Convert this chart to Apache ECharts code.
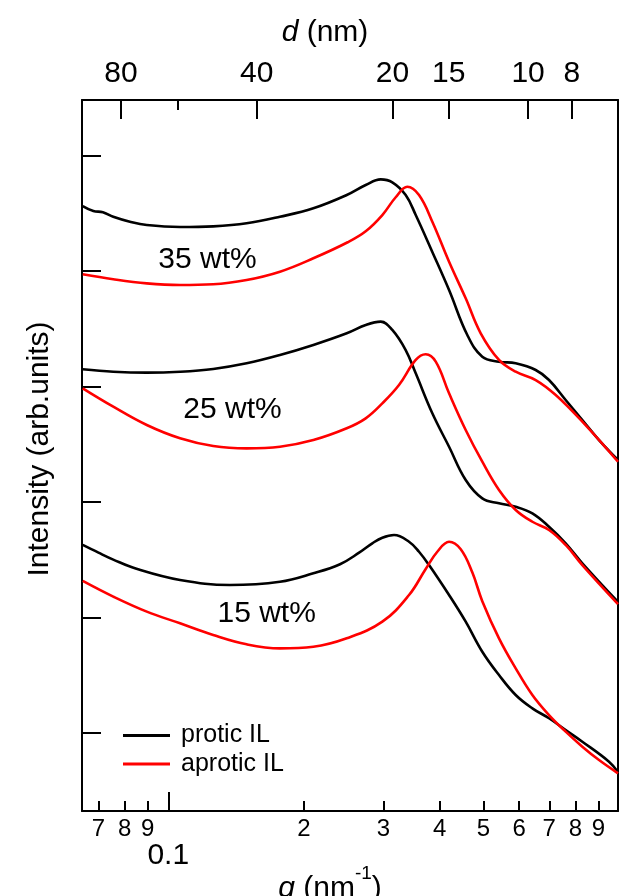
<!DOCTYPE html>
<html>
<head>
<meta charset="utf-8">
<script src="https://cdn.jsdelivr.net/npm/echarts@6/dist/echarts.min.js"></script>
<style>
  html, body { margin: 0; padding: 0; background: #fff; }
  #chart { width: 619px; height: 896px; }
</style>
</head>
<body>
<div id="chart"></div>
<script>
// Scattering vector range (nm^-1) and intensity range (arb. units, offset curves)
const Q_MIN = 0.06436, Q_MAX = 0.9944;
const I_MIN = 0.3215, I_MAX = 6.4827;

// Axis tick values
const qMinorTicks = [0.07, 0.08, 0.09, 0.2, 0.3, 0.4, 0.5, 0.6, 0.7, 0.8, 0.9];
const qMajorTicks = [0.1];
const dMajorTicks = [80, 40, 20, 15, 10, 8];
const dMinorTicks = [60];
const intensityTicks = [1, 2, 3, 4, 5, 6];

// 35 wt%
const q35p = [0.0646, 0.0682, 0.0716, 0.0755, 0.0822, 0.0896, 0.1062, 0.1258, 0.1492, 0.1769, 0.2098, 0.2488, 0.2741, 0.2960, 0.3140, 0.3362, 0.3539, 0.3852, 0.4196, 0.4606, 0.4972, 0.5415, 0.5897, 0.6531, 0.6991, 0.7612, 0.8288, 0.9026, 0.9944];
const i35p = [5.564, 5.521, 5.510, 5.471, 5.428, 5.399, 5.382, 5.388, 5.414, 5.471, 5.544, 5.659, 5.746, 5.795, 5.769, 5.659, 5.486, 5.166, 4.836, 4.446, 4.258, 4.215, 4.201, 4.143, 4.056, 3.883, 3.710, 3.536, 3.363];
const q35a = [0.0646, 0.0755, 0.0896, 0.1062, 0.1258, 0.1492, 0.1769, 0.2098, 0.2500, 0.2741, 0.2984, 0.3195, 0.3390, 0.3599, 0.3852, 0.4196, 0.4568, 0.4932, 0.5415, 0.5897, 0.6531, 0.7235, 0.8288, 0.9944];
const i35a = [4.972, 4.929, 4.894, 4.880, 4.886, 4.923, 4.995, 5.111, 5.250, 5.345, 5.486, 5.640, 5.731, 5.659, 5.428, 5.081, 4.764, 4.461, 4.230, 4.128, 4.056, 3.926, 3.695, 3.348];

// 25 wt%
const q25p = [0.0646, 0.0755, 0.0896, 0.1062, 0.1258, 0.1492, 0.1769, 0.2098, 0.2488, 0.2741, 0.2960, 0.3140, 0.3362, 0.3539, 0.3852, 0.4196, 0.4568, 0.4972, 0.5415, 0.5897, 0.6421, 0.6991, 0.7612, 0.8288, 0.9944];
const i25p = [4.149, 4.128, 4.120, 4.128, 4.152, 4.201, 4.273, 4.360, 4.461, 4.533, 4.562, 4.490, 4.316, 4.114, 3.768, 3.478, 3.190, 3.031, 2.988, 2.958, 2.901, 2.785, 2.641, 2.468, 2.133];
const q25a = [0.0646, 0.0755, 0.0896, 0.1062, 0.1258, 0.1492, 0.1769, 0.2098, 0.2488, 0.2741, 0.2984, 0.3249, 0.3539, 0.3724, 0.3920, 0.4196, 0.4568, 0.4972, 0.5415, 0.5897, 0.6421, 0.6991, 0.7612, 0.8288, 0.9944];
const i25a = [3.984, 3.825, 3.666, 3.551, 3.484, 3.464, 3.478, 3.536, 3.638, 3.724, 3.854, 4.013, 4.230, 4.279, 4.215, 3.941, 3.623, 3.348, 3.103, 2.930, 2.828, 2.757, 2.627, 2.453, 2.115];

// 15 wt%
const q15p = [0.0646, 0.0700, 0.0755, 0.0850, 0.1062, 0.1370, 0.1769, 0.2098, 0.2404, 0.2650, 0.2835, 0.2984, 0.3168, 0.3420, 0.3599, 0.3788, 0.4196, 0.4568, 0.4972, 0.5415, 0.5897, 0.6421, 0.6991, 0.7612, 0.8288, 0.9497, 0.9944];
const i15p = [2.627, 2.560, 2.500, 2.420, 2.323, 2.280, 2.308, 2.381, 2.460, 2.560, 2.641, 2.690, 2.713, 2.655, 2.568, 2.453, 2.193, 1.962, 1.702, 1.500, 1.327, 1.211, 1.125, 1.023, 0.922, 0.749, 0.659];
const q15a = [0.0646, 0.0755, 0.0896, 0.1062, 0.1258, 0.1492, 0.1769, 0.2098, 0.2488, 0.2984, 0.3420, 0.3724, 0.3951, 0.4196, 0.4454, 0.4724, 0.4972, 0.5415, 0.5897, 0.6421, 0.6991, 0.7612, 0.8288, 0.9026, 0.9944];
const i15a = [2.315, 2.179, 2.049, 1.948, 1.847, 1.766, 1.731, 1.745, 1.818, 1.962, 2.193, 2.419, 2.568, 2.655, 2.590, 2.390, 2.140, 1.818, 1.558, 1.327, 1.153, 1.009, 0.879, 0.763, 0.648];

// Concentration annotations, anchored in data coordinates
const concLabels = ['35 wt%', '25 wt%', '15 wt%'];
const concAnchorQ = [0.1222, 0.1388, 0.1653];
const concAnchorI = [5.096, 3.796, 2.027];

const PROTIC = 'protic IL', APROTIC = 'aprotic IL';
const FONT = "'Liberation Sans', Arial, Helvetica, sans-serif";
const zip = (xs, ys) => xs.map((x, k) => [x, ys[k]]);
const TWO_PI = 2 * Math.PI;

const chart = echarts.init(document.getElementById('chart'), null, { renderer: 'canvas' });

function curve(name, color, qs, is) {
  return {
    name, type: 'line', data: zip(qs, is), showSymbol: false, symbol: 'none',
    smooth: 0.4, lineStyle: { color, width: 2.6 }, itemStyle: { color },
    animation: false, z: color === '#000000' ? 2 : 3
  };
}

const baseLog = { type: 'log', logBase: 10, min: Q_MIN, max: Q_MAX, gridIndex: 0, splitLine: { show: false } };
const lineStyle = { color: '#000', width: 2 };

const option = {
  animation: false,
  backgroundColor: '#fff',
  textStyle: { fontFamily: FONT },
  grid: { left: 82, top: 100, width: 536, height: 711, containLabel: false, outerBoundsMode: 'none' },
  legend: {
    orient: 'vertical', left: 123, top: 722.5, padding: 0, icon: 'rect', itemWidth: 47, itemHeight: 3,
    itemGap: 2.6, selectedMode: false,
    textStyle: { fontSize: 25, lineHeight: 26, color: '#000', fontFamily: FONT, padding: [0, 0, 0, 6] },
    data: [PROTIC, APROTIC]
  },
  xAxis: [
    Object.assign({}, baseLog, {
      position: 'bottom',
      axisLine: { show: true, lineStyle },
      axisTick: { show: true, inside: true, length: 10, lineStyle, customValues: qMinorTicks },
      minorTick: { show: false },
      axisLabel: {
        show: true, customValues: qMinorTicks, margin: 6, fontSize: 24, color: '#000', fontFamily: FONT,
        formatter: v => String(v < 0.1 ? Math.round(v * 100) : Math.round(v * 10))
      },
      name: '{i|q}{t| (nm}{s|-1}{t|)}', nameLocation: 'middle', nameGap: 53,
      nameTextStyle: {
        color: '#000', fontFamily: FONT, padding: [0, 40, 0, 0],
        rich: {
          i: { fontSize: 30, fontStyle: 'italic', lineHeight: 40, verticalAlign: 'bottom', fontFamily: FONT, color: '#000' },
          t: { fontSize: 30, lineHeight: 40, verticalAlign: 'bottom', fontFamily: FONT, color: '#000' },
          s: { fontSize: 19, lineHeight: 19, verticalAlign: 'top', fontFamily: FONT, color: '#000' }
        }
      }
    }),
    Object.assign({}, baseLog, {
      position: 'bottom',
      axisLine: { show: false },
      axisTick: { show: true, inside: true, length: 19, lineStyle, customValues: qMajorTicks },
      axisLabel: {
        show: true, customValues: qMajorTicks, margin: 30, fontSize: 30, color: '#000', fontFamily: FONT,
        formatter: v => String(Math.round(v * 10) / 10)
      }
    }),
    Object.assign({}, baseLog, {
      position: 'top',
      axisLine: { show: true, lineStyle },
      axisTick: { show: true, inside: true, length: 19, lineStyle, customValues: dMajorTicks.map(d => TWO_PI / d) },
      axisLabel: {
        show: true, customValues: dMajorTicks.map(d => TWO_PI / d), margin: 11, fontSize: 30, color: '#000', fontFamily: FONT,
        formatter: v => String(Math.round(TWO_PI / v))
      },
      name: '{i|d}{t| (nm)}', nameLocation: 'middle', nameGap: 52,
      nameTextStyle: {
        color: '#000', fontFamily: FONT, padding: [0, 50, 0, 0],
        rich: {
          i: { fontSize: 30, fontStyle: 'italic', lineHeight: 30, fontFamily: FONT, color: '#000' },
          t: { fontSize: 30, lineHeight: 30, fontFamily: FONT, color: '#000' }
        }
      }
    }),
    Object.assign({}, baseLog, {
      position: 'top',
      axisLine: { show: false },
      axisTick: { show: true, inside: true, length: 10, lineStyle, customValues: dMinorTicks.map(d => TWO_PI / d) },
      axisLabel: { show: false }
    })
  ],
  yAxis: [
    {
      type: 'value', position: 'left', min: I_MIN, max: I_MAX, gridIndex: 0,
      splitLine: { show: false },
      axisLine: { show: true, lineStyle },
      axisTick: { show: true, inside: true, length: 19, lineStyle, customValues: intensityTicks },
      axisLabel: { show: false },
      name: 'Intensity (arb.units)', nameLocation: 'middle', nameGap: 27,
      nameTextStyle: { fontSize: 30, color: '#000', fontFamily: FONT, padding: [0, 0, 0, 13] }
    },
    {
      type: 'value', position: 'right', min: I_MIN, max: I_MAX, gridIndex: 0,
      splitLine: { show: false },
      axisLine: { show: true, lineStyle },
      axisTick: { show: false }, axisLabel: { show: false }
    }
  ],
  series: [
    curve(PROTIC, '#000000', q35p, i35p),
    curve(PROTIC, '#000000', q25p, i25p),
    curve(PROTIC, '#000000', q15p, i15p),
    curve(APROTIC, '#ff0000', q35a, i35a),
    curve(APROTIC, '#ff0000', q25a, i25a),
    curve(APROTIC, '#ff0000', q15a, i15a)
  ]
};

chart.setOption(option);

// Place the concentration labels at their data anchors
chart.setOption({
  graphic: concLabels.map((txt, k) => {
    const p = chart.convertToPixel({ xAxisIndex: 0, yAxisIndex: 0 }, [concAnchorQ[k], concAnchorI[k]]);
    return {
      type: 'text', x: p[0], y: p[1], z: 10,
      style: { text: txt, fontSize: 30, fontFamily: FONT, fill: '#000', align: 'center', verticalAlign: 'middle' }
    };
  })
});
</script>
</body>
</html>
